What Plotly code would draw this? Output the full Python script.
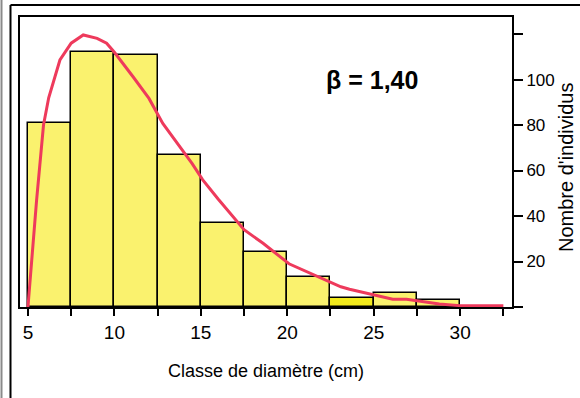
import plotly.graph_objects as go

# ---- data ----
bin_left = [5, 7.5, 10, 12.5, 15, 17.5, 20, 22.5, 25, 27.5]
counts = [81, 112, 111, 67, 37, 24, 13, 4, 6, 3]
bin_width = 2.5

curve_x = [5.0, 5.5, 5.9, 6.2, 6.85, 7.5, 8.2, 9.0, 9.55, 10.0, 11.1, 12.0, 12.8,
           13.8, 14.5, 15.1, 16.0, 17.5, 18.6, 20.1, 20.9, 21.9, 23.1, 23.6, 25.0,
           26.1, 26.9, 27.9, 28.8, 30.0, 32.5]
curve_y = [0, 47, 80, 92, 108.6, 116, 119.6, 118.1, 116, 112, 101, 91.7, 80.7,
           70.5, 63, 56, 47.5, 34, 28, 19, 16.3, 12.6, 8.9, 7.8, 5.3,
           3.4, 3.4, 2.3, 1.3, 0.6, 0.6]

x_tickvals = [5, 7.5, 10, 12.5, 15, 17.5, 20, 22.5, 25, 27.5, 30, 32.5]
x_ticktext = ["5", "", "10", "", "15", "", "20", "", "25", "", "30", ""]
y_tickvals = [0, 20, 40, 60, 80, 100, 120]
y_ticktext = ["", "20", "40", "60", "80", "100", ""]

annotation_text = "β = 1,40"
x_title = "Classe de diamètre (cm)"
y_title = "Nombre d'individus"

# ---- style ----
W, H = 580, 398
L, R, T, B = 20, 512, 17, 307
bar_colors = ["#faf26e"] * len(counts)
bar_colors[7] = "#f2ea1c"
red = "#ee3a5c"
arial = "Liberation Sans, Arial, sans-serif"

fig = go.Figure()
fig.add_trace(go.Bar(
    x=bin_left, y=counts, width=bin_width, offset=0,
    marker=dict(color=bar_colors, line=dict(color="black", width=1.5)),
    showlegend=False, hoverinfo="skip",
))
fig.add_trace(go.Scatter(
    x=curve_x, y=curve_y, mode="lines",
    line=dict(color=red, width=3), showlegend=False, hoverinfo="skip",
))

def px_x(px):
    return (px - L) / (R - L)

def px_y(py):
    return (B - py) / (B - T)

shapes = [
    dict(type="line", xref="paper", yref="paper",
         x0=px_x(1.5), x1=px_x(1.5), y0=px_y(0), y1=px_y(H),
         line=dict(color="#8a8a8a", width=2)),
    dict(type="line", xref="paper", yref="paper",
         x0=px_x(10.5), x1=px_x(10.5), y0=px_y(5), y1=px_y(H + 5),
         line=dict(color="black", width=2)),
    dict(type="line", xref="paper", yref="paper",
         x0=px_x(10.5), x1=px_x(W + 5), y0=px_y(5), y1=px_y(5),
         line=dict(color="black", width=2)),
]

fig.update_layout(
    width=W, height=H,
    margin=dict(l=L, r=W - R, t=T, b=H - B, pad=0),
    paper_bgcolor="white", plot_bgcolor="white",
    bargap=0,
    shapes=shapes,
    annotations=[
        dict(text=annotation_text, x=24.9, y=100, xref="x", yref="y",
             xanchor="center", yanchor="middle",
             showarrow=False, font=dict(family=arial, size=25, color="black", weight="bold")),
        dict(text=x_title, x=0.5, y=px_y(371), xref="paper", yref="paper",
             xanchor="center", yanchor="middle",
             showarrow=False, font=dict(family=arial, size=18, color="black")),
        dict(text=y_title, x=px_x(566), y=px_y(168), xref="paper", yref="paper",
             xanchor="center", yanchor="middle",
             showarrow=False, textangle=-90,
             font=dict(family=arial, size=20, color="black")),
    ],
    xaxis=dict(
        range=[4.54, 33.0], tickvals=x_tickvals, ticktext=x_ticktext,
        ticks="outside", ticklen=7, tickwidth=1.5, tickcolor="black",
        showline=True, linecolor="black", linewidth=2, mirror=True,
        showgrid=False, zeroline=False,
        tickfont=dict(family=arial, size=19, color="black"),
    ),
    yaxis=dict(
        range=[0, 127.5], side="right", tickvals=y_tickvals, ticktext=y_ticktext,
        ticks="outside", ticklen=9, tickwidth=1.5, tickcolor="black",
        showline=True, linecolor="black", linewidth=2, mirror=True,
        showgrid=False, zeroline=False,
        tickfont=dict(family=arial, size=17, color="black"),
    ),
)

fig.write_html("out.html")
